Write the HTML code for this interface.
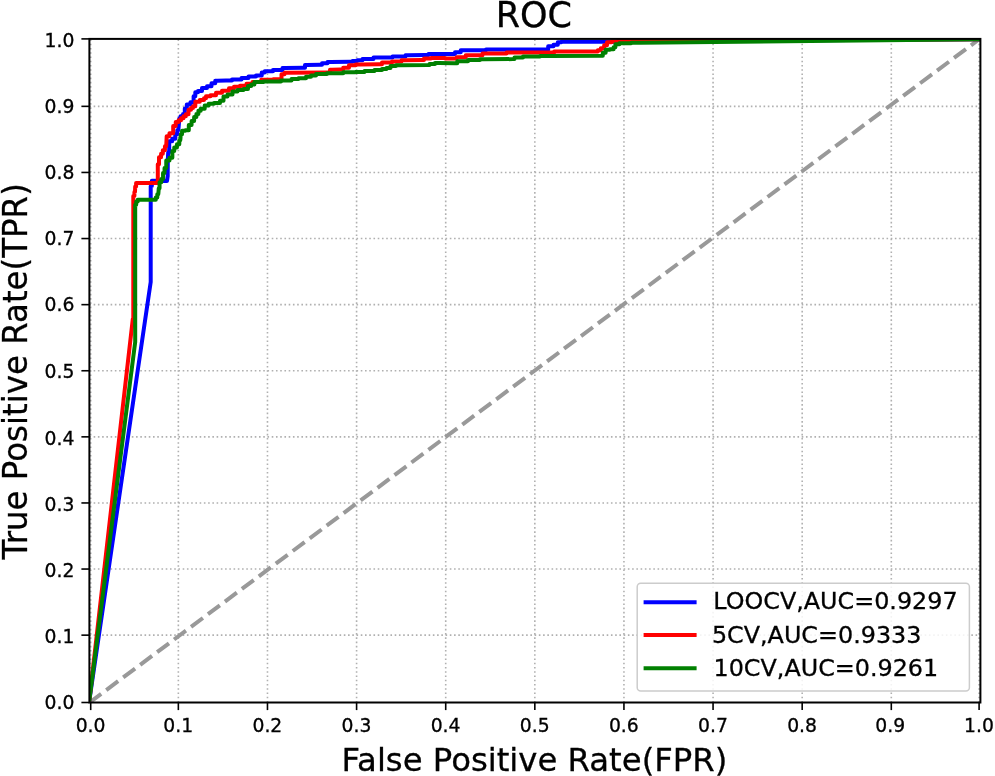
<!DOCTYPE html>
<html lang="en">
<head>
<meta charset="utf-8">
<title>ROC</title>
<style>
html,body{margin:0;padding:0;background:#fff;}
body{width:995px;height:776px;overflow:hidden;}
svg{display:block;opacity:0.999;will-change:transform;}
text{font-family:'DejaVu Sans','Liberation Sans',sans-serif;fill:#000;stroke:#000;stroke-width:0.3px;}
.tick{font-size:18.8px;}
.lab{font-size:32.3px;}
.ttl{font-size:35.0px;}
.leg{font-size:23.85px;}
</style>
</head>
<body>
<svg width="995" height="776" viewBox="0 0 995 776">
<rect x="0" y="0" width="995" height="776" fill="#ffffff"/>
<defs><clipPath id="ax"><rect x="89.4" y="38.9" width="891.0" height="663.6"/></clipPath></defs>

<g stroke="#b0b0b0" stroke-width="1.6" stroke-dasharray="1.6 2.64" fill="none">
<line x1="90.70" y1="702.5" x2="90.70" y2="38.9"/>
<line x1="178.35" y1="702.5" x2="178.35" y2="38.9"/>
<line x1="267.47" y1="702.5" x2="267.47" y2="38.9"/>
<line x1="356.59" y1="702.5" x2="356.59" y2="38.9"/>
<line x1="445.71" y1="702.5" x2="445.71" y2="38.9"/>
<line x1="534.83" y1="702.5" x2="534.83" y2="38.9"/>
<line x1="623.94" y1="702.5" x2="623.94" y2="38.9"/>
<line x1="713.06" y1="702.5" x2="713.06" y2="38.9"/>
<line x1="802.18" y1="702.5" x2="802.18" y2="38.9"/>
<line x1="891.30" y1="702.5" x2="891.30" y2="38.9"/>
<line x1="979.10" y1="702.5" x2="979.10" y2="38.9"/>
<line x1="89.4" y1="635.15" x2="980.4" y2="635.15"/>
<line x1="89.4" y1="569.05" x2="980.4" y2="569.05"/>
<line x1="89.4" y1="502.95" x2="980.4" y2="502.95"/>
<line x1="89.4" y1="436.85" x2="980.4" y2="436.85"/>
<line x1="89.4" y1="370.75" x2="980.4" y2="370.75"/>
<line x1="89.4" y1="304.65" x2="980.4" y2="304.65"/>
<line x1="89.4" y1="238.55" x2="980.4" y2="238.55"/>
<line x1="89.4" y1="172.45" x2="980.4" y2="172.45"/>
<line x1="89.4" y1="106.35" x2="980.4" y2="106.35"/>
</g>
<g clip-path="url(#ax)" fill="none" stroke-linejoin="round">
<line x1="89.3" y1="702.7" x2="980.4" y2="38.3" stroke="#999999" stroke-width="4" stroke-dasharray="14.8 6.35"/>
<polyline points="89.23,701.25 150.7,282 150.7,186 151.85,186 151.85,180.8 153,180.8 167,181 167.7,176 167.8,160 168.2,152.3 169.2,152.3 169.2,141.2 170.2,141.2 172.2,141.2 172.2,138.7 174.2,138.7 175.25,138.7 175.25,134.2 176.3,134.2 177.3,134.2 177.3,130.2 178.3,130.2 178.8,125.1 179.3,118.6 180.55,118.6 180.55,116.35 181.8,116.35 183.05,116.35 183.05,114.1 184.3,114.1 184.8,114.1 184.8,108.5 185.3,108.5 186.8,108.5 186.8,104.5 188.3,104.5 190.45,104.5 190.45,102.3 192.6,102.3 193.6,102.3 193.6,96.3 194.6,96.3 195.3,96.3 195.3,92.2 196,92.2 198,92.2 198,91 200,91 202,91 202,88.1 204,88.1 207,88.1 207,86.3 210,86.3 211.5,86.3 211.5,83.3 213,83.3 215.25,83.3 215.25,80.8 217.5,80.8 226,80.5 232,80.5 232,79.5 238,79.5 241.5,79.5 241.5,78 245,78 248.5,78 248.5,76.5 252,76.5 256,76.5 256,75.5 260,75.5 261.75,75.5 261.75,72.5 263.5,72.5 264.75,72.5 264.75,71.2 266,71.2 273,71.2 273,70 280,70 282.5,70 282.5,68 285,68 303,67.8 305,67.8 305,65 307,65 320,64.8 322,64.8 322,63.3 324,63.3 327.5,63.3 327.5,62 331,62 350.5,61.8 352.5,61.8 352.5,61 354.5,61 357.25,61 357.25,60.2 360,60.2 362.5,60.2 362.5,58.9 365,58.9 373.5,58.9 373.5,57.4 382,57.4 392.5,57.4 392.5,56.4 403,56.4 405.5,56.4 405.5,55.2 408,55.2 425,54.9 428.5,54.9 428.5,53.9 432,53.9 453.5,54.1 455,54.1 455,52.3 456.5,52.3 460.75,52.3 460.75,50.3 465,50.3 486,50.3 486,49.6 507,49.6 546.4,49.6 548.2,49.6 548.2,46.3 550,46.3 553.5,46.3 553.5,44.8 557,44.8 557.8,44.8 557.8,42.3 558.6,42.3 561.3,42.3 561.3,41.8 564,41.8 606,41.7 623,41.7 623,41.3 640,41.3 980.4,39.3" stroke="#0000ff" stroke-width="4.0"/>
<polyline points="89.23,701.25 132.8,319 133.3,319 133.3,196 133.8,196 134.4,196 134.4,192 135,192 135.2,186.5 136.1,186.5 136.1,183.1 137,183.1 157.3,183.1 157.8,181.5 157.8,164.3 159,164.3 159,157.3 160.2,157.3 161.07,157.3 161.07,153.8 161.95,153.8 162.82,153.8 162.82,150.3 163.7,150.3 164.95,150.3 164.95,146.2 166.2,146.2 166.7,136.2 169.45,136.2 169.45,133.2 172.2,133.2 173.2,133.2 173.2,126.1 174.2,126.1 175.75,126.1 175.75,122.1 177.3,122.1 178.55,122.1 178.55,120.15 179.8,120.15 181.05,120.15 181.05,118.2 182.3,118.2 183.48,118.2 183.48,116.2 184.65,116.2 185.82,116.2 185.82,114.2 187,114.2 188.5,114.2 188.5,109.8 190,109.8 191,109.8 191,108.05 192,108.05 193,108.05 193,106.3 194,106.3 195.3,106.3 195.3,101.8 196.6,101.8 199.8,101.8 199.8,100.1 203,100.1 204,100.1 204,98.2 205,98.2 206,98.2 206,96.3 207,96.3 210.5,96.3 210.5,95.3 214,95.3 216,95.3 216,92.8 218,92.8 222,92.8 222,90.8 226,90.8 229,90.8 229,88.2 232,88.2 234,88.2 234,86.7 236,86.7 240,86.7 240,85.7 244,85.7 246.5,85.7 246.5,83.7 249,83.7 252.5,83.7 252.5,82 256,82 261.25,82 261.25,79.7 266.5,79.7 273.25,79.7 273.25,79.2 280,79.2 281.5,79.2 281.5,74.2 283,74.2 284.5,74.2 284.5,72.7 286,72.7 328,72.5 330,72.5 330,69.7 332,69.7 340,69.4 343.2,69.4 343.2,67.7 346.4,67.7 348.95,67.7 348.95,65.2 351.5,65.2 355.75,65.2 355.75,64.5 360,64.5 379,64.2 382,64.2 382,62.4 385,62.4 392,62.4 392,61.4 399,61.4 401.5,61.4 401.5,60.2 404,60.2 422,60 424,60 424,58.6 426,58.6 431,58.6 431,57.9 436,57.9 445,57.9 445,58.4 454,58.4 456.75,58.4 456.75,57.3 459.5,57.3 465.75,57.3 465.75,55.3 472,55.3 482.5,55.3 482.5,53.6 493,53.6 506.5,53.6 506.5,52.6 520,52.6 548.4,52.5 554.2,52.5 554.2,51.6 560,51.6 596.3,51.6 597.8,51.6 597.8,50.3 599.3,50.3 600.8,50.3 600.8,48.3 602.3,48.3 604.15,48.3 604.15,45.3 606,45.3 607,45.3 607,42.3 608,42.3 611.5,42.3 611.5,41.6 615,41.6 617.7,41.6 617.7,40.9 620.4,40.9 980.4,39.3" stroke="#ff0000" stroke-width="4.0"/>
<polyline points="89.23,701.25 135.2,342 135.2,204.8 136.2,204.8 136.2,201.6 137.2,201.6 137.7,201.6 137.7,199.8 138.2,199.8 155.3,199.8 155.8,199.8 155.8,197.4 156.3,197.4 157.3,197.4 157.3,194.2 158.3,194.2 158.8,188.2 159.55,188.2 159.55,182.2 160.3,182.2 161.3,182.2 161.3,179.1 162.3,179.1 163.05,179.1 163.05,173.1 163.8,173.1 164.55,173.1 164.55,168.1 165.3,168.1 166.25,168.1 166.25,160.5 167.2,160.5 169.5,160.5 169.5,157.8 171.8,157.8 172.35,157.8 172.35,151 172.9,151 174.25,151 174.25,147.6 175.6,147.6 176.95,147.6 176.95,144.2 178.3,144.2 179.3,144.2 179.3,140.2 180.3,140.2 180.8,134.2 182.05,134.2 182.05,130.7 183.3,130.7 185.3,130.7 185.3,130.2 187.3,130.2 188.8,130.2 188.8,125.1 190.3,125.1 191.58,125.1 191.58,121.1 192.85,121.1 194.12,121.1 194.12,117.1 195.4,117.1 196.4,117.1 196.4,113.95 197.4,113.95 198.4,113.95 198.4,110.8 199.4,110.8 200.7,110.8 200.7,108.7 202,108.7 204.7,108.7 204.7,105.6 207.4,105.6 208.7,105.6 208.7,103.7 210,103.7 214,103.7 214,102.9 218,102.9 220,102.9 220,100.8 222,100.8 223.5,100.8 223.5,96.6 225,96.6 227.5,96.6 227.5,94.6 230,94.6 232.5,94.6 232.5,91.6 235,91.6 237.5,91.6 237.5,90 240,90 243.5,90 243.5,89 247,89 248,89 248,86 249,86 251.2,86 251.2,84.5 253.4,84.5 254.4,84.5 254.4,82.1 255.4,82.1 263.7,82.1 263.7,81.5 272,81.5 281,81.5 281,80.6 290,80.6 291.5,80.6 291.5,79 293,79 298.5,79 298.5,78.3 304,78.3 306,78.3 306,76.7 308,76.7 311,76.7 311,75.5 314,75.5 316,75.5 316,74 318,74 327,74 327,73.3 336,73.3 343.25,73.3 343.25,72.3 350.5,72.3 355.25,72.3 355.25,71.9 360,71.9 364.5,71.9 364.5,71 369,71 374.5,71 374.5,70 380,70 382,70 382,69 384,69 386.5,69 386.5,68 389,68 390.5,68 390.5,66 392,66 396,66 396,65.3 400,65.3 428,65.1 429.5,65.1 429.5,64 431,64 435,64 435,63 439,63 454.5,63.2 457.25,63.2 457.25,61.2 460,61.2 468,61.2 468,60 476,60 480,60 480,59.3 484,59.3 513,59.1 514.5,59.1 514.5,57.6 516,57.6 523,57.6 523,56.6 530,56.6 540,56.6 540,55.9 550,55.9 601.3,55.7 602.8,55.7 602.8,52.8 604.3,52.8 605.65,52.8 605.65,49.8 607,49.8 609.9,49.8 609.9,49.3 612.8,49.3 613.6,49.3 613.6,47.3 614.4,47.3 615.4,47.3 615.4,44.3 616.4,44.3 619.4,44.3 619.4,43.3 622.4,43.3 631.2,43.3 631.2,42.8 640,42.8 980.4,39.3" stroke="#008000" stroke-width="4.0"/>
</g>
<rect x="89.4" y="38.9" width="891.0" height="663.6" fill="none" stroke="#000" stroke-width="2"/>
<g stroke="#000" stroke-width="1.6">
<line x1="90.70" y1="702.5" x2="90.70" y2="710.1"/>
<line x1="89.4" y1="702.50" x2="81.4" y2="702.50"/>
<line x1="178.35" y1="702.5" x2="178.35" y2="710.1"/>
<line x1="89.4" y1="635.15" x2="81.4" y2="635.15"/>
<line x1="267.47" y1="702.5" x2="267.47" y2="710.1"/>
<line x1="89.4" y1="569.05" x2="81.4" y2="569.05"/>
<line x1="356.59" y1="702.5" x2="356.59" y2="710.1"/>
<line x1="89.4" y1="502.95" x2="81.4" y2="502.95"/>
<line x1="445.71" y1="702.5" x2="445.71" y2="710.1"/>
<line x1="89.4" y1="436.85" x2="81.4" y2="436.85"/>
<line x1="534.83" y1="702.5" x2="534.83" y2="710.1"/>
<line x1="89.4" y1="370.75" x2="81.4" y2="370.75"/>
<line x1="623.94" y1="702.5" x2="623.94" y2="710.1"/>
<line x1="89.4" y1="304.65" x2="81.4" y2="304.65"/>
<line x1="713.06" y1="702.5" x2="713.06" y2="710.1"/>
<line x1="89.4" y1="238.55" x2="81.4" y2="238.55"/>
<line x1="802.18" y1="702.5" x2="802.18" y2="710.1"/>
<line x1="89.4" y1="172.45" x2="81.4" y2="172.45"/>
<line x1="891.30" y1="702.5" x2="891.30" y2="710.1"/>
<line x1="89.4" y1="106.35" x2="81.4" y2="106.35"/>
<line x1="979.10" y1="702.5" x2="979.10" y2="710.1"/>
<line x1="89.4" y1="38.90" x2="81.4" y2="38.90"/>
</g>
<text class="tick" transform="translate(90.60,732.3) scale(1,1.07)" text-anchor="middle">0.0</text>
<text class="tick" transform="translate(74.4,708.50) scale(1,1.07)" text-anchor="end">0.0</text>
<text class="tick" transform="translate(178.25,732.3) scale(1,1.07)" text-anchor="middle">0.1</text>
<text class="tick" transform="translate(74.4,643.00) scale(1,1.07)" text-anchor="end">0.1</text>
<text class="tick" transform="translate(267.37,732.3) scale(1,1.07)" text-anchor="middle">0.2</text>
<text class="tick" transform="translate(74.4,576.65) scale(1,1.07)" text-anchor="end">0.2</text>
<text class="tick" transform="translate(356.49,732.3) scale(1,1.07)" text-anchor="middle">0.3</text>
<text class="tick" transform="translate(74.4,510.60) scale(1,1.07)" text-anchor="end">0.3</text>
<text class="tick" transform="translate(445.61,732.3) scale(1,1.07)" text-anchor="middle">0.4</text>
<text class="tick" transform="translate(74.4,444.60) scale(1,1.07)" text-anchor="end">0.4</text>
<text class="tick" transform="translate(534.73,732.3) scale(1,1.07)" text-anchor="middle">0.5</text>
<text class="tick" transform="translate(74.4,377.50) scale(1,1.07)" text-anchor="end">0.5</text>
<text class="tick" transform="translate(623.84,732.3) scale(1,1.07)" text-anchor="middle">0.6</text>
<text class="tick" transform="translate(74.4,311.00) scale(1,1.07)" text-anchor="end">0.6</text>
<text class="tick" transform="translate(712.96,732.3) scale(1,1.07)" text-anchor="middle">0.7</text>
<text class="tick" transform="translate(74.4,244.95) scale(1,1.07)" text-anchor="end">0.7</text>
<text class="tick" transform="translate(802.08,732.3) scale(1,1.07)" text-anchor="middle">0.8</text>
<text class="tick" transform="translate(74.4,178.50) scale(1,1.07)" text-anchor="end">0.8</text>
<text class="tick" transform="translate(890.20,732.3) scale(1,1.07)" text-anchor="middle">0.9</text>
<text class="tick" transform="translate(74.4,112.80) scale(1,1.07)" text-anchor="end">0.9</text>
<text class="tick" transform="translate(979.00,732.3) scale(1,1.07)" text-anchor="middle">1.0</text>
<text class="tick" transform="translate(74.4,47.15) scale(1,1.07)" text-anchor="end">1.0</text>
<text class="lab" transform="translate(534.4,770.6) scale(1,1.0)" text-anchor="middle">False Positive Rate(FPR)</text>
<text class="lab" style="font-size:32.45px" transform="translate(26.8,371.3) rotate(-90) scale(1,1.037)" text-anchor="middle">True Positive Rate(TPR)</text>
<text class="ttl" transform="translate(533.9,26.7) scale(1,1.01)" text-anchor="middle">ROC</text>
<rect x="637.2" y="583.2" width="332.2" height="107.7" rx="3.5" ry="3.5" fill="#ffffff" fill-opacity="0.85" stroke="#cccccc" stroke-width="1.5"/>
<line x1="643.6" y1="602.2" x2="696.6" y2="602.2" stroke="#0000ff" stroke-width="4.0"/>
<text class="leg" transform="translate(713.30,608.70) scale(1,1.0)">LOOCV,AUC=0.9297</text>
<line x1="643.6" y1="634.9" x2="696.6" y2="634.9" stroke="#ff0000" stroke-width="4.0"/>
<text class="leg" transform="translate(711.90,642.50) scale(1,1.0)">5CV,AUC=0.9333</text>
<line x1="643.6" y1="668.2" x2="696.6" y2="668.2" stroke="#008000" stroke-width="4.0"/>
<text class="leg" transform="translate(713.50,676.00) scale(1,1.0)">10CV,AUC=0.9261</text>
</svg>
</body>
</html>
